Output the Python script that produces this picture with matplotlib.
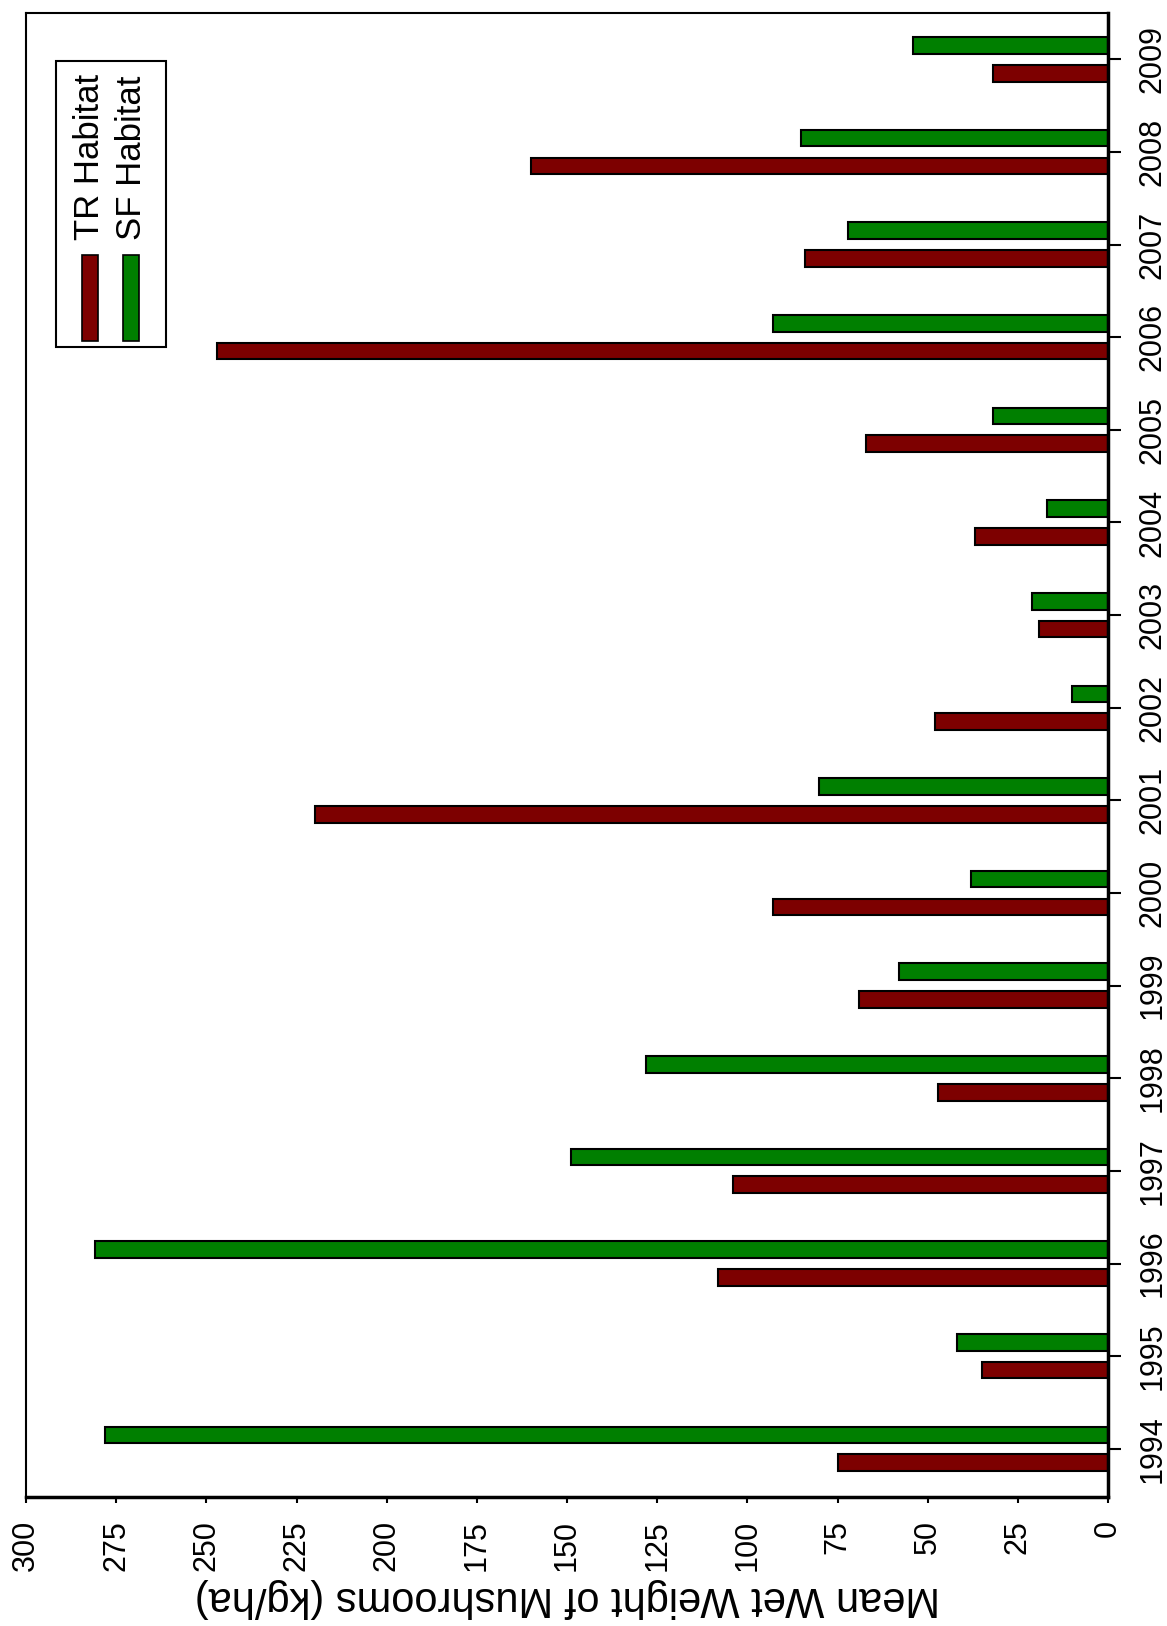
import matplotlib
matplotlib.use('Agg')

import numpy as np
import matplotlib.pyplot as plt
from matplotlib.patches import Rectangle

# mean wet weight (kg/ha) per year
years = ['1994', '1995', '1996', '1997', '1998', '1999', '2000', '2001',
         '2002', '2003', '2004', '2005', '2006', '2007', '2008', '2009']
tr_habitat = [75, 35, 108, 104, 47, 69, 93, 220, 48, 19, 37, 67, 247, 84, 160, 32]
sf_habitat = [278, 42, 281, 149, 128, 58, 38, 80, 10, 21, 17, 32, 93, 72, 85, 54]
value_ticks = [0, 25, 50, 75, 100, 125, 150, 175, 200, 225, 250, 275, 300]
series_names = ['TR Habitat', 'SF Habitat']

red = '#7d0000'
green = '#007f00'

plt.rcParams['font.family'] = ['Liberation Sans', 'DejaVu Sans']

fig = plt.figure(figsize=(11.67, 16.26), dpi=100)
ax = fig.add_axes([26/1167., 129/1626., 1082/1167., 1484/1626.])

# the chart is a column chart turned on its side, so bars grow leftwards
pos = np.arange(len(years))
ax.barh(pos - 0.15, tr_habitat, height=0.18, color=red, edgecolor='black', linewidth=1.5)
ax.barh(pos + 0.15, sf_habitat, height=0.18, color=green, edgecolor='black', linewidth=1.5)

ax.set_xlim(300, 0)
ax.set_ylim(-0.52, 15.5)

ax.set_xticks(value_ticks)
ax.set_xticklabels([str(v) for v in value_ticks], rotation=90, fontsize=22)
ax.yaxis.tick_right()
ax.set_yticks(pos)
ax.set_yticklabels(years, rotation=90, va='center', fontsize=22)
ax.tick_params(axis='x', direction='out', length=4.5, width=1.5, pad=12)
ax.tick_params(axis='y', direction='out', length=9, width=1.5, pad=12)

ax.set_xlabel('Mean Wet Weight of Mushrooms (kg/ha)', rotation=180, fontsize=30)
ax.xaxis.set_label_coords(0.5, -0.0545)

for side in ['top', 'left']:
	ax.spines[side].set_linewidth(1.5)
for side in ['right', 'bottom']:
	ax.spines[side].set_linewidth(2.5)

# legend drawn by hand so its text can be turned with the rest of the chart
ax.add_patch(Rectangle((0.0277, 0.775), 0.1017, 0.1927, transform=ax.transAxes,
	facecolor='white', edgecolor='black', linewidth=1.5, zorder=5))
key_x = [0.0515, 0.0896]
for kx, name, col in zip(key_x, series_names, [red, green]):
	ax.add_patch(Rectangle((kx, 0.779), 0.0150, 0.058, transform=ax.transAxes,
		facecolor=col, edgecolor='black', linewidth=1.2, zorder=6))
	ax.text(kx + 0.0075, 0.847, name, transform=ax.transAxes, rotation=90,
		ha='center', va='bottom', fontsize=25, zorder=7)

plt.savefig('out.png', dpi=100)
